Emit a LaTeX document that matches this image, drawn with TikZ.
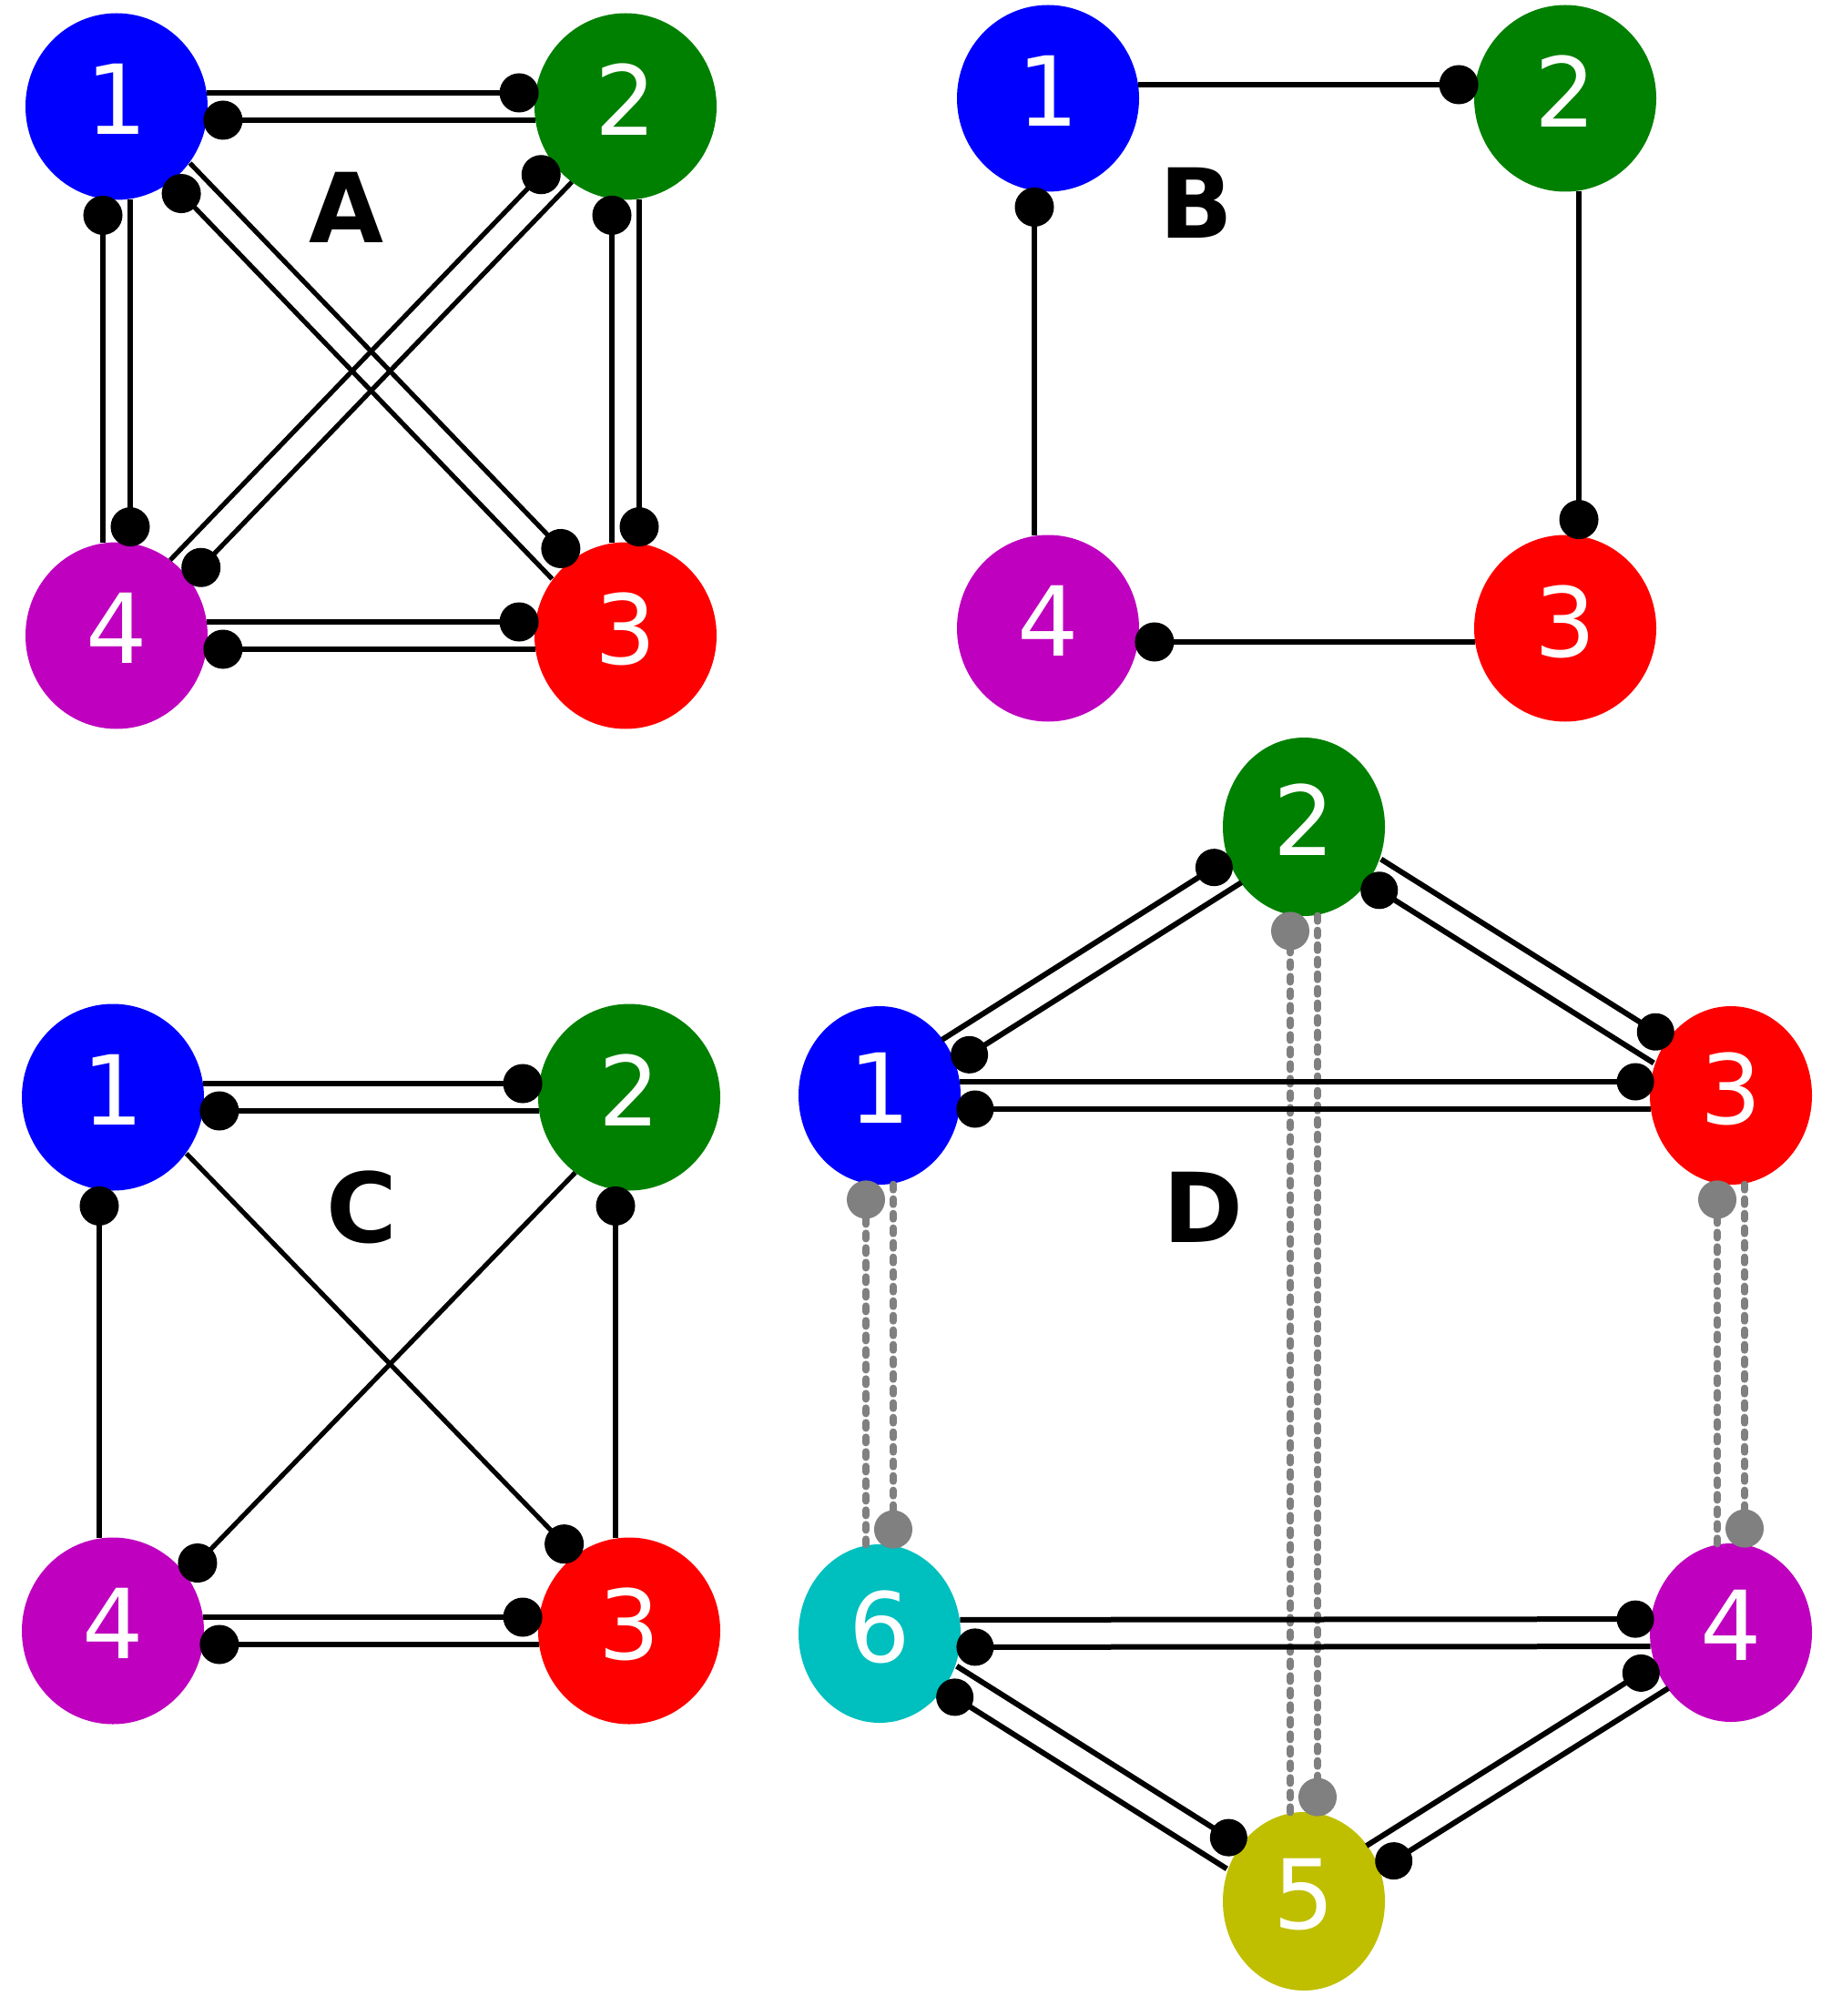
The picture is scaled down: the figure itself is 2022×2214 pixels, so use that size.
\documentclass[tikz,border=0pt]{standalone}
\usepackage{fontspec}
\setmainfont{DejaVu Sans}
\usetikzlibrary{arrows.meta,calc,shapes.geometric}
\definecolor{nblue}{RGB}{0,0,255}
\definecolor{ngreen}{RGB}{0,128,0}
\definecolor{nred}{RGB}{255,0,0}
\definecolor{nmag}{RGB}{191,0,191}
\definecolor{ncyan}{RGB}{0,191,191}
\definecolor{nyel}{RGB}{191,191,0}
\definecolor{ngray}{RGB}{128,128,128}
\newcommand\eoff{7.5pt}
% directed edge, offset to its left, from node #2 to node #3
\newcommand\dedge[3]{%
  \path (#2) -- (#3) coordinate[pos=0] (es) coordinate[pos=1] (ee);
  \draw[#1] ($(es)!\eoff!90:(ee)$) -- ($(ee)!\eoff!-90:(es)$);
}
\begin{document}
\begin{tikzpicture}[x=0.5pt,y=-0.5pt,
  vtx/.style={ellipse, inner sep=0pt, minimum width=100pt, minimum height=102.5pt,
    text=white, font=\fontsize{53}{60}\selectfont, text depth=8pt},
  vtxd/.style={vtx, minimum width=89pt, minimum height=98pt},
  lab/.style={inner sep=0pt, font=\fontsize{53}{60}\selectfont\bfseries},
  ed/.style={draw=black, line width=2.6pt, -{Circle[length=21.5pt]},
    shorten >=-2.5pt, shorten <=-0.5pt},
  edd/.style={ed, line width=3pt, -{Circle[length=20.5pt]}},
  ged/.style={draw=ngray, line width=3.75pt, line cap=round,
    dash pattern=on 3.25pt off 4.75pt, -{Circle[length=21pt]},
    shorten >=-2.5pt, shorten <=-0.5pt}]
\fill[white] (0,0) rectangle (2022,2214);
\useasboundingbox (0,0) rectangle (2022,2214);

% ---------- Panel A ----------
\node[vtx, fill=nblue]  (a1) at (128,117) {1};
\node[vtx, fill=ngreen] (a2) at (687,117) {2};
\node[vtx, fill=nred]   (a3) at (687,698) {3};
\node[vtx, fill=nmag]   (a4) at (128,698) {4};
\node[lab] (la) at (381,228) {A};
\dedge{ed}{a1}{a2}\dedge{ed}{a2}{a1}
\dedge{ed}{a1}{a4}\dedge{ed}{a4}{a1}
\dedge{ed}{a2}{a3}\dedge{ed}{a3}{a2}
\dedge{ed}{a4}{a3}\dedge{ed}{a3}{a4}
\dedge{ed}{a1}{a3}\dedge{ed}{a3}{a1}
\dedge{ed}{a2}{a4}\dedge{ed}{a4}{a2}

% ---------- Panel B ----------
\node[vtx, fill=nblue]  (b1) at (1151,108) {1};
\node[vtx, fill=ngreen] (b2) at (1719,108) {2};
\node[vtx, fill=nred]   (b3) at (1719,690) {3};
\node[vtx, fill=nmag]   (b4) at (1151,690) {4};
\node[lab] (lb) at (1314,223) {B};
\dedge{ed}{b1}{b2}
\dedge{ed}{b2}{b3}
\dedge{ed}{b3}{b4}
\dedge{ed}{b4}{b1}

% ---------- Panel C ----------
\node[vtx, fill=nblue]  (c1) at (124,1205) {1};
\node[vtx, fill=ngreen] (c2) at (691,1205) {2};
\node[vtx, fill=nred]   (c3) at (691,1791) {3};
\node[vtx, fill=nmag]   (c4) at (124,1791) {4};
\node[lab] (lc) at (397,1326) {C};
\dedge{ed}{c1}{c2}\dedge{ed}{c2}{c1}
\dedge{ed}{c4}{c3}\dedge{ed}{c3}{c4}
\dedge{ed}{c4}{c1}
\dedge{ed}{c3}{c2}
\dedge{ed}{c1}{c3}
\dedge{ed}{c2}{c4}

% ---------- Panel D ----------
\node[vtxd, fill=ngreen] (d2) at (1432,908) {2};
\node[vtxd, fill=nblue]  (d1) at (966,1203) {1};
\node[vtxd, fill=nred]   (d3) at (1901,1203) {3};
\node[vtxd, fill=ncyan]  (d6) at (966,1794) {6};
\node[vtxd, fill=nmag]   (d4) at (1901,1793) {4};
\node[vtxd, fill=nyel]   (d5) at (1432,2088) {5};
\node[lab] (ld) at (1321,1326) {D};
\dedge{ged}{d1}{d6}\dedge{ged}{d6}{d1}
\dedge{ged}{d2}{d5}\dedge{ged}{d5}{d2}
\dedge{ged}{d3}{d4}\dedge{ged}{d4}{d3}
\dedge{edd}{d1}{d3}\dedge{edd}{d3}{d1}
\dedge{edd}{d1}{d2}\dedge{edd}{d2}{d1}
\dedge{edd}{d2}{d3}\dedge{edd}{d3}{d2}
\dedge{edd}{d6}{d4}\dedge{edd}{d4}{d6}
\dedge{edd}{d6}{d5}\dedge{edd}{d5}{d6}
\dedge{edd}{d5}{d4}\dedge{edd}{d4}{d5}
\end{tikzpicture}
\end{document}
